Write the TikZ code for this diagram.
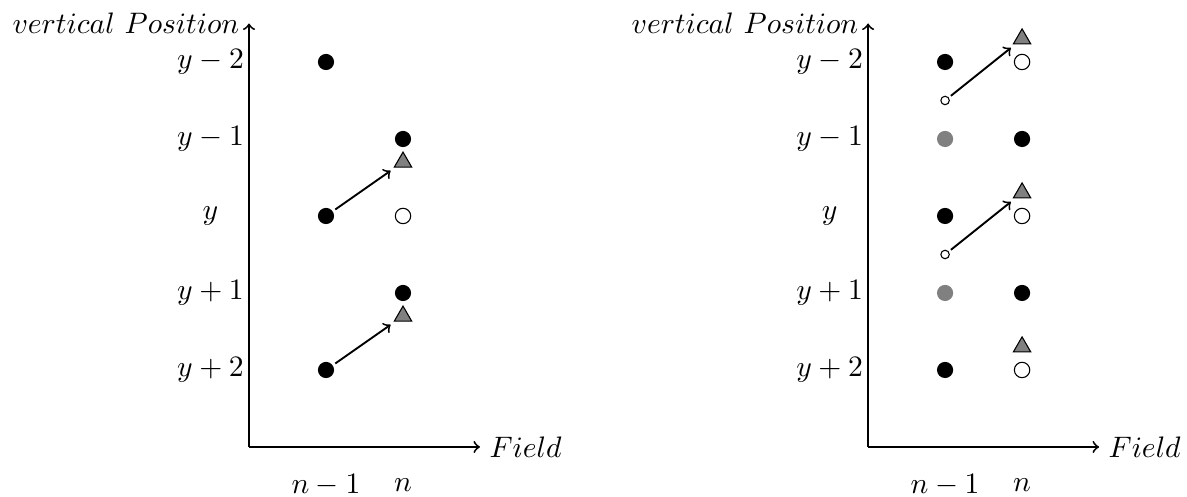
\documentclass[tikz,border=0pt]{standalone}
\usetikzlibrary{shapes.geometric}
\begin{document}
\begin{tikzpicture}[x=1cm,y=1cm,
  font=\fontsize{11.3}{13.5}\selectfont,
  ax/.style={->, line width=0.7pt},
  mv/.style={->, line width=0.7pt, shorten >=2pt, shorten <=1pt},
  bdot/.style={circle, fill=black, inner sep=0pt, minimum size=0.21cm},
  gdot/.style={circle, fill=gray, inner sep=0pt, minimum size=0.21cm},
  odot/.style={circle, draw=black, fill=white, thin, inner sep=0pt, minimum size=0.2cm},
  sdot/.style={circle, draw=black, fill=white, thin, inner sep=0pt, minimum size=0.11cm},
  tri/.style={regular polygon, regular polygon sides=3, draw=black, fill=gray, thin, inner sep=0pt, minimum size=0.26cm},
  lbl/.style={inner sep=2pt}]
\useasboundingbox (-3.234,-0.649) rectangle (12.182,5.805);

% ---------------- left diagram ----------------
\coordinate (Lo) at (0,0);
\coordinate (Lx) at (3,0);
\coordinate (Ly) at (0,5.5);
\draw[ax] (Lo) -- (Lx);
\draw[ax] (Lo) -- (Ly);
\node[anchor=west] (Lfield) at (Lx) {$Field$};
\node[anchor=east] (Lvp) at (Ly) {$vertical\ Position$};
\node[lbl] (Lr1) at (-0.5,5) {$y-2$};
\node[lbl] (Lr2) at (-0.5,4) {$y-1$};
\node[lbl] (Lr3) at (-0.5,3) {$y$};
\node[lbl] (Lr4) at (-0.5,2) {$y+1$};
\node[lbl] (Lr5) at (-0.5,1) {$y+2$};
\node[lbl] (Lc1) at (1,-0.5) {$n-1$};
\node[lbl] (Lc2) at (2,-0.5) {$n$};

\node[bdot] (La5) at (1,5) {};
\node[bdot] (La3) at (1,3) {};
\node[bdot] (La1) at (1,1) {};
\node[bdot] (Lb4) at (2,4) {};
\node[tri]  (Lt4) at (2,3.7) {};
\node[odot] (Lb3) at (2,3) {};
\node[bdot] (Lb2) at (2,2) {};
\node[tri]  (Lt2) at (2,1.7) {};
\draw[mv] (La3) -- (Lt4);
\draw[mv] (La1) -- (Lt2);

% ---------------- right diagram ----------------
\begin{scope}[xshift=8.04cm]
\coordinate (Ro) at (0,0);
\coordinate (Rx) at (3,0);
\coordinate (Ry) at (0,5.5);
\draw[ax] (Ro) -- (Rx);
\draw[ax] (Ro) -- (Ry);
\node[anchor=west] (Rfield) at (Rx) {$Field$};
\node[anchor=east] (Rvp) at (Ry) {$vertical\ Position$};
\node[lbl] (Rr1) at (-0.5,5) {$y-2$};
\node[lbl] (Rr2) at (-0.5,4) {$y-1$};
\node[lbl] (Rr3) at (-0.5,3) {$y$};
\node[lbl] (Rr4) at (-0.5,2) {$y+1$};
\node[lbl] (Rr5) at (-0.5,1) {$y+2$};
\node[lbl] (Rc1) at (1,-0.5) {$n-1$};
\node[lbl] (Rc2) at (2,-0.5) {$n$};

\node[bdot] (Ra5) at (1,5) {};
\node[gdot] (Ra4) at (1,4) {};
\node[bdot] (Ra3) at (1,3) {};
\node[gdot] (Ra2) at (1,2) {};
\node[bdot] (Ra1) at (1,1) {};
\node[sdot] (Rs4) at (1,4.5) {};
\node[sdot] (Rs2) at (1,2.5) {};

\node[tri]  (Rt5) at (2,5.3) {};
\node[odot] (Rb5) at (2,5) {};
\node[bdot] (Rb4) at (2,4) {};
\node[tri]  (Rt3) at (2,3.3) {};
\node[odot] (Rb3) at (2,3) {};
\node[bdot] (Rb2) at (2,2) {};
\node[tri]  (Rt1) at (2,1.3) {};
\node[odot] (Rb1) at (2,1) {};
\draw[mv] (Rs4) -- (Rt5);
\draw[mv] (Rs2) -- (Rt3);
\end{scope}
\end{tikzpicture}
\end{document}
